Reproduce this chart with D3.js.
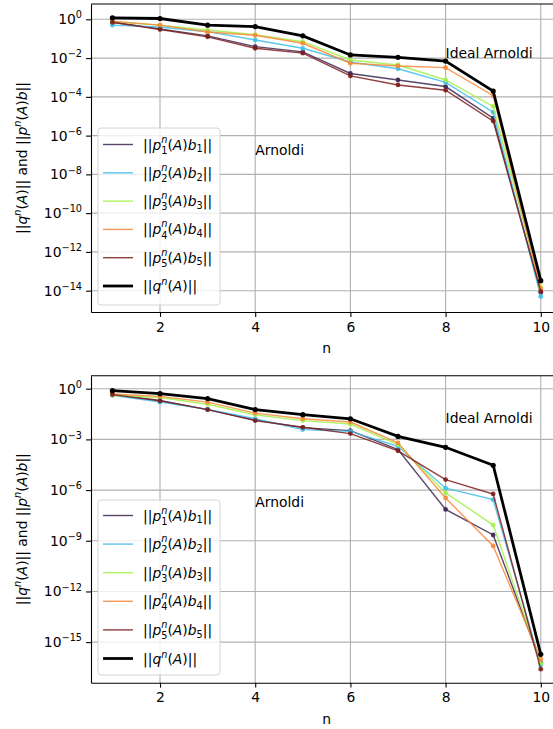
<!DOCTYPE html>
<html>
<head>
<meta charset="utf-8">
<script src="https://cdn.jsdelivr.net/npm/d3@7"></script>
<style>
  body { margin: 0; background: #fff; }
  text { font-family: "DejaVu Sans", sans-serif; fill: #000; }
</style>
</head>
<body>
<script>
const n = [1, 2, 3, 4, 5, 6, 7, 8, 9, 10];

// top panel
const topQ  = [1.2, 1.1, 0.5, 0.42, 0.14, 1.45e-2, 1.1e-2, 7e-3, 2e-4, 3.3e-14];
const topP1 = [0.7, 0.32, 0.14, 3.9e-2, 2.1e-2, 1.6e-3, 7.4e-4, 3.4e-4, 8e-6, 8e-15];
const topP2 = [0.5, 0.4, 0.23, 8.5e-2, 3.2e-2, 6.3e-3, 2.8e-3, 5.6e-4, 1.6e-5, 5e-15];
const topP3 = [0.75, 0.5, 0.28, 0.16, 7e-2, 8e-3, 4.4e-3, 7.4e-4, 3.2e-5, 1.5e-14];
const topP4 = [0.8, 0.5, 0.22, 0.15, 5.8e-2, 5.4e-3, 3.9e-3, 3.2e-3, 1.15e-4, 1.25e-14];
const topP5 = [0.7, 0.3, 0.125, 3.2e-2, 1.8e-2, 1.2e-3, 4.1e-4, 2.2e-4, 5.6e-6, 9e-15];

// bottom panel
const botQ  = [0.76, 0.51, 0.26, 5.8e-2, 2.9e-2, 1.66e-2, 1.5e-3, 3.4e-4, 2.95e-5, 1.9e-16];
const botP1 = [0.45, 0.2, 5.8e-2, 1.4e-2, 5e-3, 3.3e-3, 2.5e-4, 7.2e-8, 2.2e-9, 6.3e-17];
const botP2 = [0.41, 0.16, 6e-2, 1.66e-2, 3.8e-3, 3e-3, 3.9e-4, 1.3e-6, 2.7e-7, 4.5e-17];
const botP3 = [0.41, 0.3, 0.12, 2.9e-2, 1.3e-2, 8.1e-3, 5e-4, 6.8e-7, 8.5e-9, 5.6e-17];
const botP4 = [0.49, 0.35, 0.16, 3.6e-2, 1.66e-2, 1.07e-2, 6.2e-4, 3.4e-7, 4.9e-10, 1e-16];
const botP5 = [0.45, 0.19, 5.8e-2, 1.3e-2, 5.2e-3, 2.2e-3, 2.1e-4, 4.2e-6, 5.9e-7, 2.5e-17];

const xTicks = [2, 4, 6, 8, 10];
const topTickExp = [0, -2, -4, -6, -8, -10, -12, -14];
const botTickExp = [0, -3, -6, -9, -12, -15];
const colors = ['#3d2650', '#3fbdea', '#a3f048', '#f8883a', '#7d1c1c'];

const FS = 13.9;

const svg = d3.select('body').append('svg')
  .attr('width', 553)
  .attr('height', 729);

// mathtext-ish helper: parts of {t, it, sup, sub}
function mathText(g, x, y, parts, anchor) {
  const t = g.append('text').attr('x', x).attr('y', y)
    .attr('font-size', FS).attr('text-anchor', anchor || 'start');
  let level = 0, lastSupW = 0;
  parts.forEach(p => {
    const ts = t.append('tspan').text(p.t);
    if (p.it) ts.attr('font-style', 'italic');
    let target = 0;
    if (p.sup) { target = (p.hi ? -0.5 : -0.42) * FS; ts.attr('font-size', FS * 0.7); }
    if (p.sub) { target = (p.stack ? 0.3 : 0.2) * FS; ts.attr('font-size', FS * 0.7); }
    if (target !== level) ts.attr('dy', target - level);
    if (p.sub && p.stack) ts.attr('dx', -lastSupW);
    level = target;
    if (p.sup) lastSupW = ts.node().getComputedTextLength();
  });
  return t;
}

function pLabel(i) {
  return [{t: '||'}, {t: 'p', it: 1}, {t: 'n', it: 1, sup: 1, hi: 1}, {t: String(i), sub: 1, stack: 1},
    {t: '('}, {t: 'A', it: 1}, {t: ')'}, {t: 'b', it: 1}, {t: String(i), sub: 1}, {t: '||'}];
}
const qLabel = [{t: '||'}, {t: 'q', it: 1}, {t: 'n', it: 1, sup: 1}, {t: '('}, {t: 'A', it: 1}, {t: ')||'}];

function panel(o) {
  const x = d3.scaleLinear().domain([0.55, 10.45]).range([91, 562.2]);
  const y = d3.scaleLog().domain(o.yDomain).range([o.top, o.bottom]);
  const g = svg.append('g');

  // grid
  g.selectAll('.gx').data(xTicks).join('line')
    .attr('x1', d => x(d)).attr('x2', d => x(d))
    .attr('y1', o.top).attr('y2', o.bottom)
    .attr('stroke', '#b0b0b0').attr('stroke-width', 1.1);
  g.selectAll('.gy').data(o.tickExp).join('line')
    .attr('x1', 91).attr('x2', 562)
    .attr('y1', d => y(Math.pow(10, d))).attr('y2', d => y(Math.pow(10, d)))
    .attr('stroke', '#b0b0b0').attr('stroke-width', 1.1);

  // x axis
  const ax = g.append('g').attr('transform', `translate(0,${o.bottom})`)
    .call(d3.axisBottom(x).tickValues(xTicks).tickSize(4.9).tickSizeOuter(0).tickPadding(4.9));
  ax.select('.domain').attr('stroke-width', 1.1);
  ax.selectAll('.tick line').attr('stroke-width', 1.1);
  ax.selectAll('.tick text').attr('font-size', FS).attr('font-family', 'DejaVu Sans');
  g.append('text').attr('x', x(5.5)).attr('y', o.bottom + 41)
    .attr('text-anchor', 'middle').attr('font-size', FS).text('n');

  // y axis
  const ay = g.append('g').attr('transform', 'translate(91,0)')
    .call(d3.axisLeft(y).tickValues(o.tickExp.map(e => Math.pow(10, e)))
      .tickSize(4.9).tickSizeOuter(0).tickFormat(''));
  ay.select('.domain').attr('stroke-width', 1.1);
  ay.selectAll('.tick line').attr('stroke-width', 1.1);
  o.tickExp.forEach(e => {
    mathText(g, 82, y(Math.pow(10, e)) + 5,
      [{t: '10'}, {t: e === 0 ? '0' : '\u2212' + (-e), sup: 1}], 'end');
  });

  // top spine
  g.append('line').attr('x1', 91).attr('x2', 562).attr('y1', o.top).attr('y2', o.top)
    .attr('stroke', '#000').attr('stroke-width', 1.1);

  // y label
  const yl = mathText(g, 0, 0, [{t: '||'}, {t: 'q', it: 1}, {t: 'n', it: 1, sup: 1}, {t: '('}, {t: 'A', it: 1},
    {t: ')|| and ||'}, {t: 'p', it: 1}, {t: 'n', it: 1, sup: 1}, {t: '('}, {t: 'A', it: 1}, {t: ')'},
    {t: 'b', it: 1}, {t: '||'}], 'middle');
  yl.attr('transform', `translate(27,${(o.top + o.bottom) / 2}) rotate(-90)`);

  // series
  const line = d3.line().x((d, i) => x(n[i])).y(d => y(d));
  o.series.forEach((s, k) => {
    g.append('path').datum(s).attr('d', line).attr('fill', 'none')
      .attr('stroke', colors[k]).attr('stroke-width', 1.4).attr('opacity', 0.85);
    g.selectAll(null).data(s).join('circle')
      .attr('cx', (d, i) => x(n[i])).attr('cy', d => y(d)).attr('r', 2.4)
      .attr('fill', colors[k]).attr('opacity', 0.9);
  });
  g.append('path').datum(o.q).attr('d', line).attr('fill', 'none')
    .attr('stroke', '#000').attr('stroke-width', 2.8);
  g.selectAll(null).data(o.q).join('circle')
    .attr('cx', (d, i) => x(n[i])).attr('cy', d => y(d)).attr('r', 2.6).attr('fill', '#000');

  // annotations
  g.append('text').attr('x', x(8)).attr('y', y(1e-2)).attr('font-size', FS).text('Ideal Arnoldi');
  g.append('text').attr('x', x(4)).attr('y', y(1e-7)).attr('font-size', FS).text('Arnoldi');

  // legend
  const lg = g.append('g');
  lg.append('rect').attr('x', 98).attr('y', o.legTop).attr('width', 122).attr('height', o.legH)
    .attr('rx', 3).attr('fill', '#fff').attr('fill-opacity', 0.8)
    .attr('stroke', '#d5d5d5').attr('stroke-width', 1);
  for (let k = 0; k < 6; k++) {
    const yy = o.legRow0 + k * o.legStep;
    lg.append('line').attr('x1', 103).attr('x2', 133).attr('y1', yy).attr('y2', yy)
      .attr('stroke', k < 5 ? colors[k] : '#000').attr('stroke-width', k < 5 ? 1.4 : 2.8)
      .attr('opacity', k < 5 ? 0.85 : 1);
    mathText(lg, 143, yy + 5, k < 5 ? pLabel(k + 1) : qLabel);
  }
}

panel({
  top: 4, bottom: 312, yDomain: [Math.pow(10, 0.79), Math.pow(10, -15.1)],
  tickExp: topTickExp, q: topQ, series: [topP1, topP2, topP3, topP4, topP5],
  legTop: 128, legH: 177, legRow0: 144.5, legStep: 28.3
});
panel({
  top: 375.7, bottom: 682.7, yDomain: [Math.pow(10, 0.77), Math.pow(10, -17.4)],
  tickExp: botTickExp, q: botQ, series: [botP1, botP2, botP3, botP4, botP5],
  legTop: 500, legH: 175, legRow0: 515.5, legStep: 28.6
});
</script>
</body>
</html>
